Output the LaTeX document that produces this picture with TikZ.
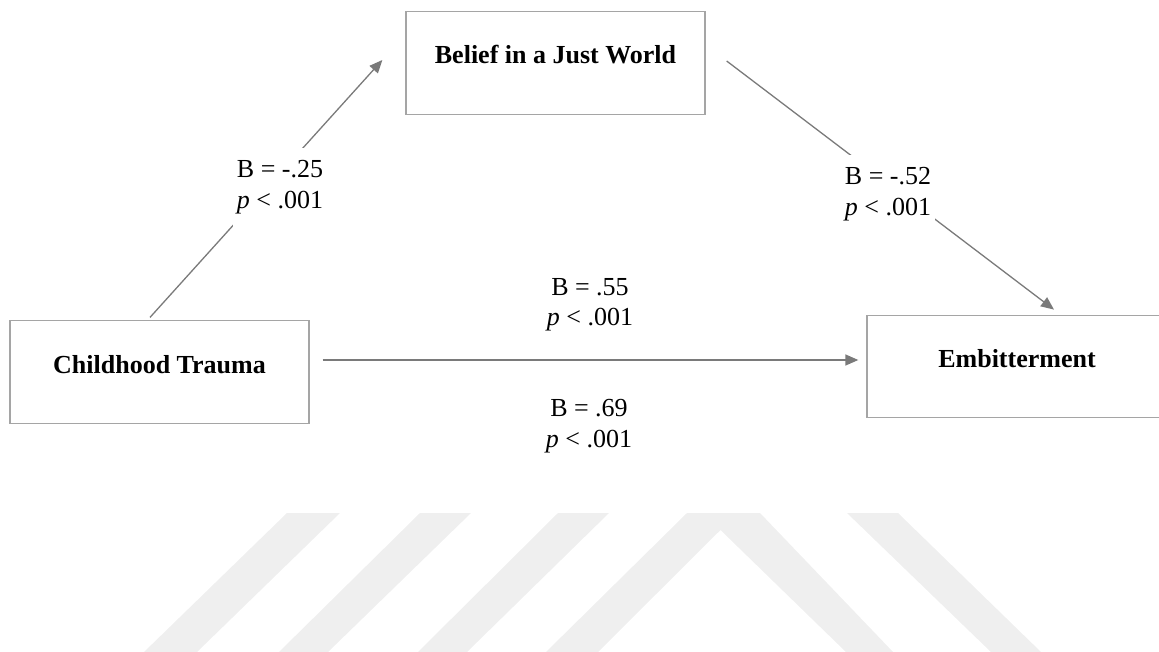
\documentclass[tikz,border=0pt]{standalone}
\usepackage{fontspec}
\setmainfont{Liberation Serif}
\usetikzlibrary{arrows.meta,calc}
\definecolor{edgegray}{RGB}{122,122,122}
\definecolor{boxgray}{RGB}{165,165,165}
\definecolor{markgray}{RGB}{239,239,239}
\begin{document}
\begin{tikzpicture}[x=1pt,y=-1pt,
  varbox/.style={draw=boxgray, line width=1.3pt, minimum width=299pt,
    minimum height=102.5pt, inner sep=0pt,
    font=\fontsize{26}{31}\selectfont\bfseries,
    text height=18pt, text depth=16pt},
  edgeline/.style={draw=edgegray, line width=1.3pt,
    -{Triangle[length=13pt,width=11pt]}},
  coef/.style={font=\fontsize{26}{31}\selectfont, align=center,
    fill=white, inner xsep=4pt, inner ysep=13pt}
]
\useasboundingbox (0,0) rectangle (1159,652);

% faint background mark
\fill[markgray] (287,513) -- (340,513) -- (196,653) -- (143,653) -- cycle;
\fill[markgray] (420,513) -- (471,513) -- (327,653) -- (278,653) -- cycle;
\fill[markgray] (558,513) -- (609,513) -- (466,653) -- (417,653) -- cycle;
\fill[markgray] (687,513) -- (760,513) -- (894,653) -- (847,653)
  -- (720.5,530) -- (597,653) -- (545,653) -- cycle;
\fill[markgray] (847,513) -- (898,513) -- (1042,653) -- (992,653) -- cycle;

% variables
\node[varbox] (bjw) at (555.5,63) {Belief in a Just World};
\node[varbox] (ct) at (159.5,372) {Childhood Trauma};
\node[varbox, minimum width=300pt] (emb) at (1017,366.5) {Embitterment};

% paths
\draw[edgeline] ($(ct.north)+(-9.5,-2.7)$) -- ($(bjw.west)+(-23,-3)$);
\draw[edgeline] ($(bjw.east)+(21,-2)$) -- ($(emb.north)+(37,-5)$);
\draw[edgeline] ($(ct.east)+(13,-12)$) -- ($(emb.west)+(-8,-6.5)$);

% coefficients (base = baseline of the second line)
\node[coef, anchor=base] (ca) at (280,209) {B = -.25\\\textit{p} < .001};
\node[coef, anchor=base] (cb) at (888,216) {B = -.52\\\textit{p} < .001};
\node[coef, anchor=base] (cc) at (590,326) {B = .55\\\textit{p} < .001};
\node[coef, anchor=base] (cd) at (589,447) {B = .69\\\textit{p} < .001};
\end{tikzpicture}
\end{document}
